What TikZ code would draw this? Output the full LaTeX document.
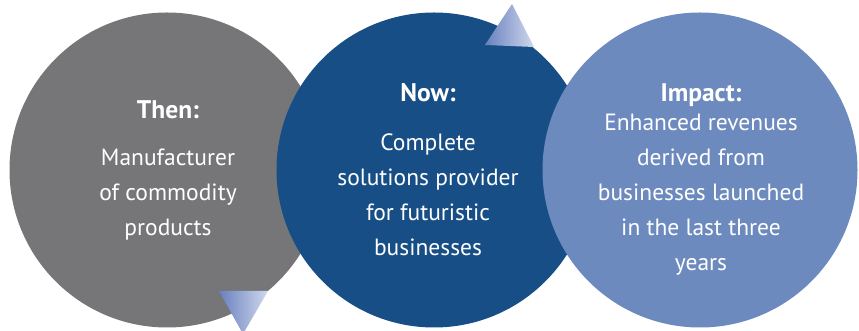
\documentclass[tikz,border=0pt]{standalone}
\usepackage{fontspec}
\setmainfont{PT Sans}
\usetikzlibrary{positioning}
\definecolor{mgray}{RGB}{118,118,121}
\definecolor{mnavy}{RGB}{24,78,134}
\definecolor{msky}{RGB}{108,138,190}
\definecolor{mpale}{RGB}{208,216,237}
\definecolor{mtip}{RGB}{104,128,190}
\tikzset{bubble/.style = {circle, inner sep=0pt, minimum size=315pt},
         heading/.style = {text=white, anchor=base, font=\fontsize{25.5}{28}\selectfont\bfseries},
         body/.style = {text=white, align=center, font=\fontsize{23.5}{35}\selectfont}}

\begin{document}
\begin{tikzpicture}[x=1pt, y=1pt]
      \useasboundingbox (0, 0) rectangle (859, 331);

      \node [bubble, fill=mgray] (then) at (167, 161) {};
      \node [bubble, fill=mnavy] (now) at (434, 161) {};
      \node [bubble, fill=msky] (impact) at (700, 161) {};

      \shade [left color=mtip, right color=mpale] (219, 40) -- (268, 40) -- (243, -3) -- cycle;
      \shade [left color=mtip, right color=mpale] (485, 286) -- (534, 284) -- (512, 327) -- cycle;

      \node [heading] (thenhead) at (168, 212) {Then:};
      \node [body] (thentext) at (168, 136) {Manufacturer\\of commodity\\products};

      \node [heading] (nowhead) at (428, 229) {Now:};
      \node [body] (nowtext) at (428, 136) {Complete\\solutions provider\\for futuristic\\businesses};

      \node [heading] (impacthead) at (701, 229) {Impact:};
      \node [body] (impacttext) at (701, 136) {Enhanced revenues\\derived from\\businesses launched\\in the last three\\years};

    \end{tikzpicture}
\end{document}
